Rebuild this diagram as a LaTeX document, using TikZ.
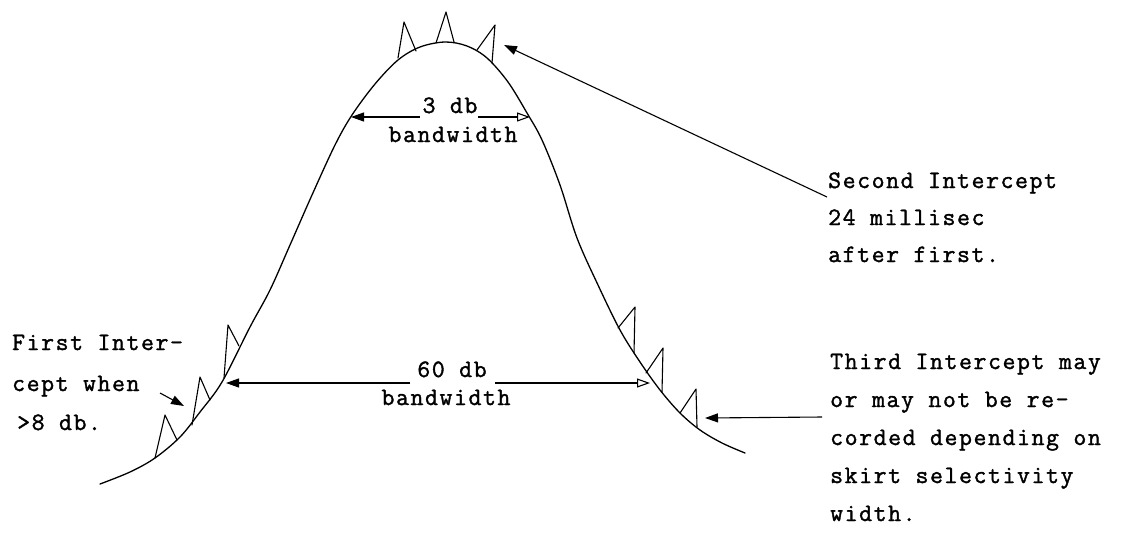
\documentclass[tikz,border=0pt]{standalone}
\usepackage{fontspec}
\newfontfamily\tw{Latin Modern Mono}[LetterSpace=6.5,FakeBold=1.5]
\usetikzlibrary{arrows.meta}
\begin{document}
\begin{tikzpicture}[x=1pt,y=-1pt,
  lbl/.style={font=\tw\fontsize{25}{30}\selectfont, inner sep=0pt, anchor=base west},
  ctr/.style={lbl, anchor=base},
  crv/.style={line width=1.3pt, line join=round, line cap=round},
  spike/.style={line width=1.1pt, line join=round, line cap=round},
  darr/.style={line width=1.1pt, -{Triangle[length=13pt,width=9pt]}},
  oarr/.style={line width=1.1pt, -{Triangle[open,length=13pt,width=9pt]}}]
\useasboundingbox (0,0) rectangle (1131,539);

% response curve
\draw[crv] plot[smooth, tension=0.55] coordinates {
 (100,484) (130,472) (155,458) (180,437) (200,412) (222,382) (250,327)
 (270,290) (290,245) (312,195) (335,145) (352,115) (375,84) (398,60)
 (420,47) (445,42) (467,46) (487,58) (508,82) (527,113) (542,140)
 (560,185) (577,238) (598,285) (620,330) (640,362) (660,390) (680,413)
 (700,430) (722,443) (745,453)};

% intercept spikes
\draw[spike] (398,58) -- (404,22) -- (416,51);
\draw[spike] (436,43) -- (446,12) -- (454,42);
\draw[spike] (477,50) -- (495,25) -- (492,63);
\draw[spike] (224,378) -- (228,325) -- (239,346);
\draw[spike] (192,425) -- (200,377) -- (210,400);
\draw[spike] (155,458) -- (165,415) -- (177,440);
\draw[spike] (618,328) -- (635,307) -- (634,353);
\draw[spike] (646,373) -- (663,348) -- (662,392);
\draw[spike] (680,413) -- (696,389) -- (697,427);

% bandwidth labels
\node[ctr] (d3) at (450,113) {3 db};
\node[ctr] (b3) at (453,142) {bandwidth};
\node[ctr] (d60) at (452,377) {60 db};
\node[ctr] (b60) at (446,405) {bandwidth};

\coordinate (d3l) at (420,117);  \coordinate (c3l) at (351,117);
\coordinate (d3r) at (478,117);  \coordinate (c3r) at (530,117);
\coordinate (d60l) at (410,383); \coordinate (c60l) at (226,383);
\coordinate (d60r) at (495,383); \coordinate (c60r) at (650,383);
\draw[darr] (d3l) -- (c3l);
\draw[oarr] (d3r) -- (c3r);
\draw[darr] (d60l) -- (c60l);
\draw[oarr] (d60r) -- (c60r);

% annotations
\node[lbl] (s1) at (828,188) {Second Intercept};
\node[lbl] (s2) at (828,225) {24 millisec};
\node[lbl] (s3) at (828,262) {after first.};

\node[lbl] (t1) at (830,369) {Third Intercept may};
\node[lbl] (t2) at (830,407) {or may not be re-};
\node[lbl] (t3) at (830,445) {corded depending on};
\node[lbl] (t4) at (830,483) {skirt selectivity};
\node[lbl] (t5) at (830,521) {width.};

\node[lbl] (f1) at (12,350) {First Inter-};
\node[lbl] (f2) at (12,391) {cept when};
\node[lbl] (f3) at (17,430) {>8 db.};

\coordinate (sa) at (827,197); \coordinate (sb) at (504,45);
\coordinate (ta) at (822,417); \coordinate (tb) at (705,418);
\coordinate (fa) at (160,393); \coordinate (fb) at (184,406);
\draw[darr] (sa) -- (sb);
\draw[darr] (ta) -- (tb);
\draw[darr] (fa) -- (fb);
\end{tikzpicture}
\end{document}
